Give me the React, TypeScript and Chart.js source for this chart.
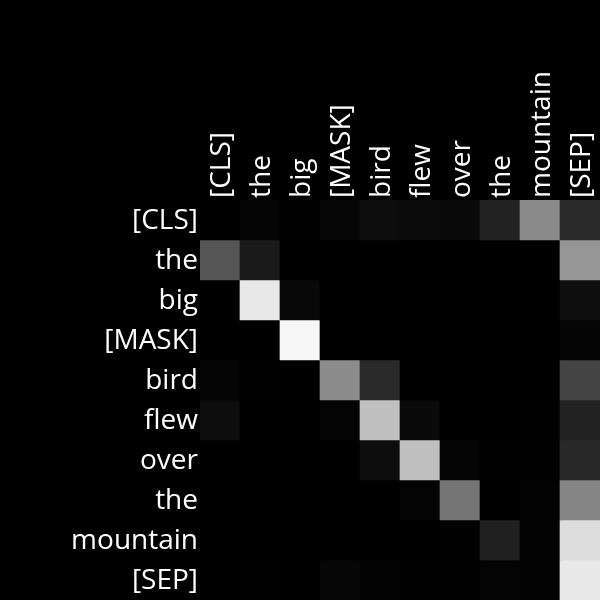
import React, { useEffect, useRef } from "react";
import { Chart, registerables } from "chart.js";

Chart.register(...registerables);

const tokens = ["[CLS]", "the", "big", "[MASK]", "bird", "flew", "over", "the", "mountain", "[SEP]"];

// attention weights (row = query token, column = key token), 0..1
const rowCLS = [0.0, 0.016, 0.004, 0.024, 0.05, 0.045, 0.04, 0.133, 0.54, 0.165];
const rowThe1 = [0.333, 0.1, 0.0, 0.0, 0.0, 0.0, 0.0, 0.0, 0.0, 0.59];
const rowBig = [0.0, 0.91, 0.03, 0.0, 0.0, 0.0, 0.0, 0.0, 0.0, 0.055];
const rowMask = [0.0, 0.0, 0.97, 0.0, 0.0, 0.0, 0.0, 0.0, 0.0, 0.02];
const rowBird = [0.02, 0.004, 0.0, 0.55, 0.165, 0.0, 0.0, 0.0, 0.0, 0.267];
const rowFlew = [0.05, 0.0, 0.0, 0.016, 0.753, 0.04, 0.0, 0.0, 0.004, 0.133];
const rowOver = [0.0, 0.0, 0.0, 0.0, 0.05, 0.753, 0.02, 0.008, 0.004, 0.157];
const rowThe2 = [0.0, 0.0, 0.0, 0.0, 0.0, 0.016, 0.46, 0.0, 0.012, 0.52];
const rowMountain = [0.0, 0.0, 0.0, 0.0, 0.0, 0.0, 0.008, 0.125, 0.012, 0.863];
const rowSEP = [0.0, 0.008, 0.0, 0.024, 0.012, 0.008, 0.004, 0.016, 0.012, 0.91];

const rows = [rowCLS, rowThe1, rowBig, rowMask, rowBird, rowFlew, rowOver, rowThe2, rowMountain, rowSEP];

const gray = (v: number) => {
  const g = Math.round(Math.max(0, Math.min(1, v)) * 255);
  return `rgb(${g},${g},${g})`;
};

const bgPlugin = {
  id: "bg",
  beforeDraw(chart: any) {
    const ctx = chart.ctx;
    ctx.save();
    ctx.fillStyle = "#000";
    ctx.fillRect(0, 0, chart.width, chart.height);
    ctx.restore();
  },
};

export default function App() {
  const ref = useRef<HTMLCanvasElement>(null);
  useEffect(() => {
    document.body.style.margin = "0";
    document.body.style.background = "#000";
    const font = { family: "'Open Sans'", size: 28 };
    const chart = new Chart(ref.current!, {
      type: "bar",
      data: {
        labels: tokens,
        datasets: rows.map((row, r) => ({
          label: tokens[r],
          data: row.map(() => 1),
          backgroundColor: row.map(gray),
          borderWidth: 0,
          categoryPercentage: 1,
          barPercentage: 1,
        })),
      },
      options: {
        animation: false,
        responsive: false,
        maintainAspectRatio: false,
        layout: { padding: 0 },
        plugins: { legend: { display: false }, tooltip: { enabled: false } },
        scales: {
          x: {
            type: "category",
            position: "top",
            stacked: true,
            grid: { display: false, drawTicks: false },
            border: { display: false },
            ticks: { color: "#fff", font, minRotation: 90, maxRotation: 90, padding: 2, labelOffset: 36, autoSkip: false },
            afterFit: (s: any) => {
              s.height = 200;
              s.paddingLeft = 0;
              s.paddingRight = 0;
            },
          },
          y: {
            type: "linear",
            position: "left",
            stacked: true,
            reverse: true,
            min: 0,
            max: 10,
            grid: { display: false, drawTicks: false },
            border: { display: false },
            ticks: {
              color: "#fff",
              font,
              padding: 2,
              labelOffset: 1,
              callback: (v: any) => tokens[Math.floor(Number(v))],
            },
            afterBuildTicks: (s: any) => {
              s.ticks = tokens.map((_, i) => ({ value: i + 0.5 }));
            },
            afterFit: (s: any) => {
              s.width = 200;
              s.paddingTop = 0;
              s.paddingBottom = 0;
            },
          },
        },
      },
      plugins: [bgPlugin],
    });
    return () => chart.destroy();
  }, []);
  return (
    <div style={{ position: "fixed", left: 0, top: 0, width: 600, height: 600, background: "#000" }}>
      <canvas ref={ref} width={600} height={600} style={{ display: "block", width: 600, height: 600 }} />
    </div>
  );
}
